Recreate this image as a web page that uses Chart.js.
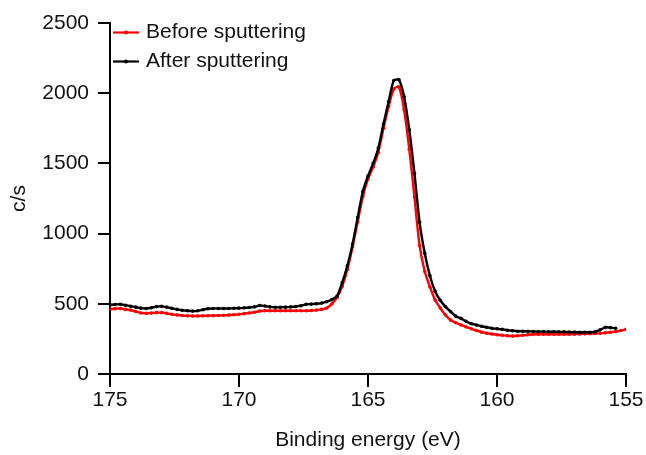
<!DOCTYPE html>
<html>
<head>
<meta charset="utf-8">
<script src="https://cdn.jsdelivr.net/npm/chart.js@4/dist/chart.umd.min.js"></script>
<style>
html,body{margin:0;padding:0;background:#fff;}
#wrap{width:646px;height:455px;position:relative;}
</style>
</head>
<body>
<div id="wrap"><canvas id="c" width="646" height="455"></canvas></div>
<script>
const energies = [175.0,174.8,174.6,174.4,174.2,174.0,173.8,173.6,173.4,173.2,173.0,172.8,172.6,172.4,172.2,172.0,171.8,171.6,171.4,171.2,171.0,170.8,170.6,170.4,170.2,170.0,169.8,169.6,169.4,169.2,169.0,168.8,168.6,168.4,168.2,168.0,167.8,167.6,167.4,167.2,167.0,166.8,166.6,166.4,166.2,166.0,165.8,165.6,165.4,165.2,165.0,164.8,164.6,164.4,164.2,164.0,163.8,163.6,163.4,163.2,163.0,162.8,162.6,162.4,162.2,162.0,161.8,161.6,161.4,161.2,161.0,160.8,160.6,160.4,160.2,160.0,159.8,159.6,159.4,159.2,159.0,158.8,158.6,158.4,158.2,158.0,157.8,157.6,157.4,157.2,157.0,156.8,156.6,156.4,156.2,156.0,155.8,155.6,155.4,155.2,155.0];

const beforeSputtering = [462,465,467,460,455,445,435,432,434,437,437,432,425,420,416,414,413,413,414,415,416,417,418,420,422,425,430,435,440,448,450,450,450,450,450,450,450,450,450,452,455,460,470,500,545,625,745,905,1085,1265,1390,1475,1580,1750,1905,2030,2045,1880,1600,1260,915,730,620,527,470,420,385,365,350,335,322,310,298,290,285,280,276,272,270,272,276,280,283,283,283,283,283,283,283,283,284,285,286,287,289,290,293,297,302,310,318];

const afterSputtering = [492,495,497,490,483,476,469,467,472,480,482,476,468,460,454,450,448,450,458,465,467,467,466,467,468,469,471,474,478,488,484,478,475,475,476,478,481,486,496,498,500,505,515,530,555,650,770,925,1115,1300,1410,1500,1610,1780,1940,2090,2095,1975,1740,1430,1080,860,700,590,525,480,445,412,396,375,358,349,340,333,326,322,318,312,308,305,305,304,303,302,302,301,301,300,300,299,298,297,297,297,300,315,332,330,325];

const xTicks = [175,170,165,160,155];
const yTicks = [0,500,1000,1500,2000,2500];
const seriesNames = ["Before sputtering","After sputtering"];
const seriesColors = ["#ff0000","#000000"];

const FONT = "'Liberation Sans', Arial, sans-serif";
const FS = 21;

function pts(vals){ return vals.map((v,i)=>({x:energies[i], y:v})); }

const legendPlugin = {
  id:'insideLegend',
  afterDraw(chart){
    const ctx = chart.ctx;
    const items = [0,1];
    const x0 = 113, x1 = 139, tx = 146;
    const ys = [32.5, 61.5];
    ctx.save();
    items.forEach((di,k)=>{
      const ds = chart.data.datasets[di];
      const y = ys[k];
      ctx.strokeStyle = ds.borderColor;
      ctx.lineWidth = 2.2;
      ctx.beginPath(); ctx.moveTo(x0,y); ctx.lineTo(x1,y); ctx.stroke();
      ctx.fillStyle = ds.borderColor;
      ctx.beginPath(); ctx.arc((x0+x1)/2,y,2,0,Math.PI*2); ctx.fill();
      ctx.fillStyle = '#111';
      ctx.font = FS + 'px ' + FONT;
      ctx.textBaseline = 'middle';
      ctx.textAlign = 'left';
      ctx.fillText(ds.label, tx, y);
    });
    ctx.restore();
  }
};

new Chart(document.getElementById('c'), {
  type:'line',
  data:{
    datasets:[
      {label:seriesNames[0], data:pts(beforeSputtering), borderColor:seriesColors[0], backgroundColor:seriesColors[0], borderWidth:2.4, pointRadius:1.8, pointBorderWidth:0, pointBackgroundColor:seriesColors[0], tension:0.25, order:2},
      {label:seriesNames[1], data:pts(afterSputtering), borderColor:seriesColors[1], backgroundColor:seriesColors[1], borderWidth:2.4, pointRadius:1.8, pointBorderWidth:0, pointBackgroundColor:seriesColors[1], tension:0.25, order:1}
    ]
  },
  options:{
    responsive:false,
    animation:false,
    devicePixelRatio:1,
    layout:{padding:{top:23,right:20,left:0,bottom:0}},
    plugins:{legend:{display:false}, tooltip:{enabled:false}},
    scales:{
      x:{
        type:'linear', reverse:true, min:155, max:175,
        afterBuildTicks(s){ s.ticks = xTicks.map(v=>({value:v})); },
        afterFit(s){ s.height = 81; },
        border:{display:true,color:'#000',width:2},
        grid:{drawOnChartArea:false,drawTicks:true,tickLength:13,color:'#000',lineWidth:2},
        ticks:{color:'#111',font:{family:FONT,size:FS},padding:1,maxRotation:0,callback:v=>String(v)},
        title:{display:true,text:'Binding energy (eV)',color:'#111',font:{family:FONT,size:FS},padding:{top:0,bottom:2}}
      },
      y:{
        min:0,max:2500,
        afterBuildTicks(s){ s.ticks = yTicks.map(v=>({value:v})); },
        afterFit(s){ s.width = 110; },
        border:{display:true,color:'#000',width:2},
        grid:{drawOnChartArea:false,drawTicks:true,tickLength:12,color:'#000',lineWidth:2},
        ticks:{color:'#111',font:{family:FONT,size:FS},padding:9,callback:v=>String(v)},
        title:{display:true,text:'c/s',color:'#111',font:{family:FONT,size:FS},padding:{top:7,bottom:0}}
      }
    }
  },
  plugins:[legendPlugin]
});
</script>
</body>
</html>
